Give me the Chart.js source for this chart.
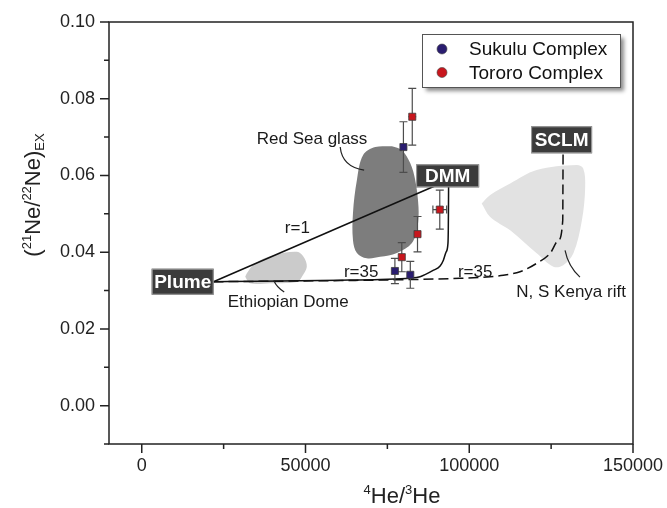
<!DOCTYPE html>
<html>
<head>
<meta charset="utf-8">
<script src="https://cdn.jsdelivr.net/npm/chart.js@4.4.1/dist/chart.umd.min.js"></script>
<style>
  html, body { margin: 0; padding: 0; background: #fff; }
  #wrap { width: 667px; height: 508px; }
</style>
</head>
<body>
<div id="wrap"><canvas id="neChart" width="667" height="508"></canvas></div>
<script>
// axis ticks
const xTicks = [0, 50000, 100000, 150000];
const xMinorTicks = [25000, 75000, 125000];
const yTicks = [0.00, 0.02, 0.04, 0.06, 0.08, 0.10];
const yMinorTicks = [-0.01, 0.01, 0.03, 0.05, 0.07, 0.09];

// samples (4He/3He, (21Ne/22Ne)EX and 1 sigma errors)
const sukuluHe = [79900, 77300, 82000];
const sukuluNe = [0.0674, 0.0351, 0.0341];
const sukuluErrNe = [0.0066, 0.0033, 0.0035];
const sukuluErrHe = [0, 0, 0];

const tororoHe = [82600, 91000, 84200, 79400];
const tororoNe = [0.0753, 0.0511, 0.0447, 0.0387];
const tororoErrNe = [0.0074, 0.0051, 0.0046, 0.0038];
const tororoErrHe = [1200, 2100, 1000, 900];

// end members
const endMembers = ['Plume', 'DMM', 'SCLM'];
const endHe = [21900, 93700, 128650];
const endNe = [0.0323, 0.0588, 0.0665];

// r=35 mixing curve Plume - DMM
const mixDmmHe = [21900, 36200, 60600, 72800, 81900, 85000, 89100, 91100, 92100, 92900, 93500, 93600, 93650, 93700];
const mixDmmNe = [0.0323, 0.0324, 0.0327, 0.0329, 0.0332, 0.0336, 0.0353, 0.0364, 0.0379, 0.0400, 0.0423, 0.0457, 0.0510, 0.0588];

// r=35 mixing curve Plume - SCLM
const mixSclmHe = [21900, 60600, 84000, 97200, 106400, 110400, 115500, 120600, 124700, 127200, 128550, 128600, 128650];
const mixSclmNe = [0.0323, 0.0326, 0.0329, 0.0332, 0.0336, 0.0340, 0.0349, 0.0371, 0.0397, 0.0431, 0.0483, 0.0562, 0.0665];

// literature fields
const redSeaHe = [76400, 79400, 82000, 83500, 84500, 84200, 82500, 77900, 72800, 68700, 65700, 64500, 64500, 65700, 67600, 71300, 76400];
const redSeaNe = [0.0676, 0.0666, 0.0632, 0.0588, 0.0518, 0.0466, 0.0424, 0.0398, 0.0388, 0.0384, 0.0398, 0.0431, 0.0502, 0.0588, 0.0653, 0.0674, 0.0676];

const ethiopiaHe = [31600, 32100, 34600, 40200, 47400, 49400, 50400, 48900, 47400, 39200, 33100, 31600];
const ethiopiaNe = [0.0336, 0.0345, 0.0371, 0.0392, 0.0401, 0.0388, 0.0362, 0.0336, 0.0322, 0.0319, 0.0319, 0.0336];

const kenyaHe = [103800, 106400, 112500, 120600, 132800, 134800, 135400, 134400, 131800, 128700, 125700, 120600, 112500, 106400, 103800];
const kenyaNe = [0.0527, 0.0549, 0.0579, 0.0614, 0.0627, 0.0618, 0.0570, 0.0483, 0.0397, 0.0366, 0.0362, 0.0397, 0.0457, 0.0492, 0.0527];

const FONT = "'Liberation Sans', Arial, sans-serif";
const BLUE = '#2a1d70';
const RED = '#c8161d';

// label placement (data coords)
const boxLabels = [
    { text: endMembers[0], x: 12500, y: 0.0323, w: 62, h: 26 },
    { text: endMembers[1], x: 93400, y: 0.0599, w: 63, h: 23 },
    { text: endMembers[2], x: 128200, y: 0.0693, w: 61, h: 27 }
];
const notes = [
    { text: 'Red Sea glass', x: 52000, y: 0.0694 },
    { text: 'Ethiopian Dome', x: 44700, y: 0.0270 },
    { text: 'N, S Kenya rift', x: 131100, y: 0.0296 },
    { text: 'r=1', x: 47500, y: 0.0463 },
    { text: 'r=35', x: 67000, y: 0.0348 },
    { text: 'r=35', x: 101800, y: 0.0347 }
];
const leaders = [
    [[60600, 0.0674], [61200, 0.0622], [67900, 0.0614]],
    [[40400, 0.0325], [41100, 0.0310], [43500, 0.0296]],
    [[129250, 0.0405], [130200, 0.0364], [133800, 0.0335]]
];

const pts = (xs, ys) => xs.map((v, i) => ({ x: v, y: ys[i] }));

function richText(ctx, parts, cx, base) {
    let total = 0;
    parts.forEach(p => {
        ctx.font = p[1] + 'px ' + FONT;
        total += ctx.measureText(p[0]).width;
    });
    let x = cx - total / 2;
    ctx.textAlign = 'left';
    ctx.textBaseline = 'alphabetic';
    parts.forEach(p => {
        ctx.font = p[1] + 'px ' + FONT;
        ctx.fillText(p[0], x, base + p[2]);
        x += ctx.measureText(p[0]).width;
    });
}

const decor = {
    id: 'decor',
    beforeDatasetDraw(chart, args) {
        const ds = chart.data.datasets[args.index];
        if (!ds.errY) return;
        const { ctx, scales: { x, y } } = chart;
        ctx.save();
        ctx.strokeStyle = '#4d4d4d';
        ctx.lineWidth = 1.2;
        ds.data.forEach((p, i) => {
            const px = x.getPixelForValue(p.x);
            const py = y.getPixelForValue(p.y);
            const t = y.getPixelForValue(p.y + ds.errY[i]);
            const b = y.getPixelForValue(p.y - ds.errY[i]);
            ctx.beginPath();
            ctx.moveTo(px, t); ctx.lineTo(px, b);
            ctx.moveTo(px - 4, t); ctx.lineTo(px + 4, t);
            ctx.moveTo(px - 4, b); ctx.lineTo(px + 4, b);
            if (ds.errX[i]) {
                const l = x.getPixelForValue(p.x - ds.errX[i]);
                const r = x.getPixelForValue(p.x + ds.errX[i]);
                ctx.moveTo(l, py); ctx.lineTo(r, py);
                if (r - l > 10) {
                    ctx.moveTo(l, py - 4); ctx.lineTo(l, py + 4);
                    ctx.moveTo(r, py - 4); ctx.lineTo(r, py + 4);
                }
            }
            ctx.stroke();
        });
        ctx.restore();
    },
    afterDatasetsDraw(chart) {
        const { ctx, scales: { x, y } } = chart;
        ctx.save();
        // leader lines
        ctx.strokeStyle = '#222';
        ctx.lineWidth = 1.2;
        leaders.forEach(l => {
            const p = l.map(q => [x.getPixelForValue(q[0]), y.getPixelForValue(q[1])]);
            ctx.beginPath();
            ctx.moveTo(p[0][0], p[0][1]);
            ctx.quadraticCurveTo(p[1][0], p[1][1], p[2][0], p[2][1]);
            ctx.stroke();
        });
        // notes
        ctx.fillStyle = '#1a1a1a';
        ctx.font = '17px ' + FONT;
        ctx.textAlign = 'center';
        ctx.textBaseline = 'middle';
        notes.forEach(n => ctx.fillText(n.text, x.getPixelForValue(n.x), y.getPixelForValue(n.y)));
        // end member boxes
        boxLabels.forEach(bx => {
            const cx = x.getPixelForValue(bx.x), cy = y.getPixelForValue(bx.y);
            ctx.fillStyle = '#3b3b3b';
            ctx.fillRect(cx - bx.w / 2, cy - bx.h / 2, bx.w, bx.h);
            ctx.strokeStyle = '#a0a0a0';
            ctx.lineWidth = 1;
            ctx.strokeRect(cx - bx.w / 2 + 0.5, cy - bx.h / 2 + 0.5, bx.w - 1, bx.h - 1);
            ctx.fillStyle = '#fff';
            ctx.font = 'bold 19px ' + FONT;
            ctx.fillText(bx.text, cx, cy + 1);
        });
        ctx.restore();
    },
    afterDraw(chart) {
        const { ctx, chartArea: a, scales: { x, y } } = chart;
        ctx.save();
        ctx.strokeStyle = '#222';
        ctx.lineWidth = 1.5;
        ctx.strokeRect(a.left, a.top, a.right - a.left, a.bottom - a.top);
        ctx.beginPath();
        xTicks.forEach(v => { const p = x.getPixelForValue(v); ctx.moveTo(p, a.bottom); ctx.lineTo(p, a.bottom + 9); });
        xMinorTicks.forEach(v => { const p = x.getPixelForValue(v); ctx.moveTo(p, a.bottom); ctx.lineTo(p, a.bottom + 5); });
        yTicks.forEach(v => { const p = y.getPixelForValue(v); ctx.moveTo(a.left, p); ctx.lineTo(a.left - 9, p); });
        yMinorTicks.forEach(v => { const p = y.getPixelForValue(v); ctx.moveTo(a.left, p); ctx.lineTo(a.left - 5, p); });
        ctx.stroke();

        // axis titles
        ctx.fillStyle = '#222';
        richText(ctx, [['4', 13, -9], ['He/', 22, 0], ['3', 13, -9], ['He', 22, 0]], 402, 503);
        ctx.save();
        ctx.translate(40, 195);
        ctx.rotate(-Math.PI / 2);
        richText(ctx, [['(', 22, 0], ['21', 13, -9], ['Ne/', 22, 0], ['22', 13, -9], ['Ne)', 22, 0], ['EX', 13, 4]], 0, 0);
        ctx.restore();

        // legend
        const lx = 422, ly = 34, lw = 198, lh = 53;
        ctx.save();
        ctx.shadowColor = 'rgba(0,0,0,0.45)';
        ctx.shadowBlur = 4;
        ctx.shadowOffsetX = 4;
        ctx.shadowOffsetY = 4;
        ctx.fillStyle = '#fff';
        ctx.fillRect(lx, ly, lw, lh);
        ctx.restore();
        ctx.strokeStyle = '#555';
        ctx.lineWidth = 1;
        ctx.strokeRect(lx + 0.5, ly + 0.5, lw, lh);
        const items = chart.data.datasets.filter(d => d.errY);
        items.forEach((d, i) => {
            const cy = ly + 15 + i * 23.5;
            ctx.beginPath();
            ctx.arc(lx + 20, cy, 5, 0, Math.PI * 2);
            ctx.fillStyle = d.backgroundColor;
            ctx.fill();
            ctx.strokeStyle = '#444';
            ctx.lineWidth = 0.6;
            ctx.stroke();
            ctx.fillStyle = '#111';
            ctx.font = '19px ' + FONT;
            ctx.textAlign = 'left';
            ctx.textBaseline = 'middle';
            ctx.fillText(d.label, lx + 47, cy + 1);
        });
        ctx.restore();
    }
};

Chart.defaults.font.family = FONT;

new Chart(document.getElementById('neChart'), {
    type: 'scatter',
    data: {
        datasets: [
            {
                label: 'Sukulu Complex',
                data: pts(sukuluHe, sukuluNe),
                errY: sukuluErrNe, errX: sukuluErrHe,
                pointStyle: 'rect', pointRadius: 5,
                backgroundColor: BLUE, borderColor: '#3c3c3c', borderWidth: 0.8,
                order: 0
            },
            {
                label: 'Tororo Complex',
                data: pts(tororoHe, tororoNe),
                errY: tororoErrNe, errX: tororoErrHe,
                pointStyle: 'rect', pointRadius: 5,
                backgroundColor: RED, borderColor: '#3c3c3c', borderWidth: 0.8,
                order: 0
            },
            {
                label: 'r=1',
                type: 'line',
                data: pts(endHe.slice(0, 2), endNe.slice(0, 2)),
                borderColor: '#111', borderWidth: 1.5, pointRadius: 0, fill: false,
                order: 1
            },
            {
                label: 'r=35 DMM',
                type: 'line',
                data: pts(mixDmmHe, mixDmmNe),
                borderColor: '#111', borderWidth: 1.5, pointRadius: 0, fill: false,
                cubicInterpolationMode: 'monotone',
                order: 1
            },
            {
                label: 'r=35 SCLM',
                type: 'line',
                data: pts(mixSclmHe, mixSclmNe),
                borderColor: '#111', borderWidth: 1.5, borderDash: [10, 5], pointRadius: 0, fill: false,
                cubicInterpolationMode: 'monotone',
                order: 1
            },
            {
                label: 'Red Sea glass',
                type: 'line',
                data: pts(redSeaHe, redSeaNe),
                borderColor: 'rgba(0,0,0,0)', borderWidth: 0, pointRadius: 0,
                backgroundColor: '#7d7d7d', fill: 'shape', tension: 0.35,
                order: 2
            },
            {
                label: 'Ethiopian Dome',
                type: 'line',
                data: pts(ethiopiaHe, ethiopiaNe),
                borderColor: 'rgba(0,0,0,0)', borderWidth: 0, pointRadius: 0,
                backgroundColor: '#cbcbcb', fill: 'shape', tension: 0.35,
                order: 2
            },
            {
                label: 'N, S Kenya rift',
                type: 'line',
                data: pts(kenyaHe, kenyaNe),
                borderColor: 'rgba(0,0,0,0)', borderWidth: 0, pointRadius: 0,
                backgroundColor: '#e2e2e2', fill: 'shape', tension: 0.35,
                order: 2
            }
        ]
    },
    options: {
        responsive: false,
        devicePixelRatio: 1,
        animation: false,
        layout: { padding: { left: 0, right: 34, top: 22, bottom: 0 } },
        plugins: {
            legend: { display: false },
            tooltip: { enabled: false }
        },
        scales: {
            x: {
                type: 'linear',
                min: -10000,
                max: 150000,
                afterBuildTicks: s => { s.ticks = xTicks.map(v => ({ value: v })); },
                afterFit: s => { s.height = 64; s.paddingLeft = 0; s.paddingRight = 0; },
                grid: { display: false, drawTicks: false },
                border: { display: false },
                ticks: {
                    padding: 11, color: '#222', maxRotation: 0, autoSkip: false,
                    font: { size: 18, family: FONT },
                    callback: v => String(v)
                }
            },
            y: {
                type: 'linear',
                min: -0.01,
                max: 0.10,
                afterBuildTicks: s => { s.ticks = yTicks.map(v => ({ value: v })); },
                afterFit: s => { s.width = 109; s.paddingTop = 0; s.paddingBottom = 0; },
                grid: { display: false, drawTicks: false },
                border: { display: false },
                ticks: {
                    padding: 14, color: '#222', autoSkip: false,
                    font: { size: 18, family: FONT },
                    callback: v => v.toFixed(2)
                }
            }
        }
    },
    plugins: [decor]
});
</script>
</body>
</html>
